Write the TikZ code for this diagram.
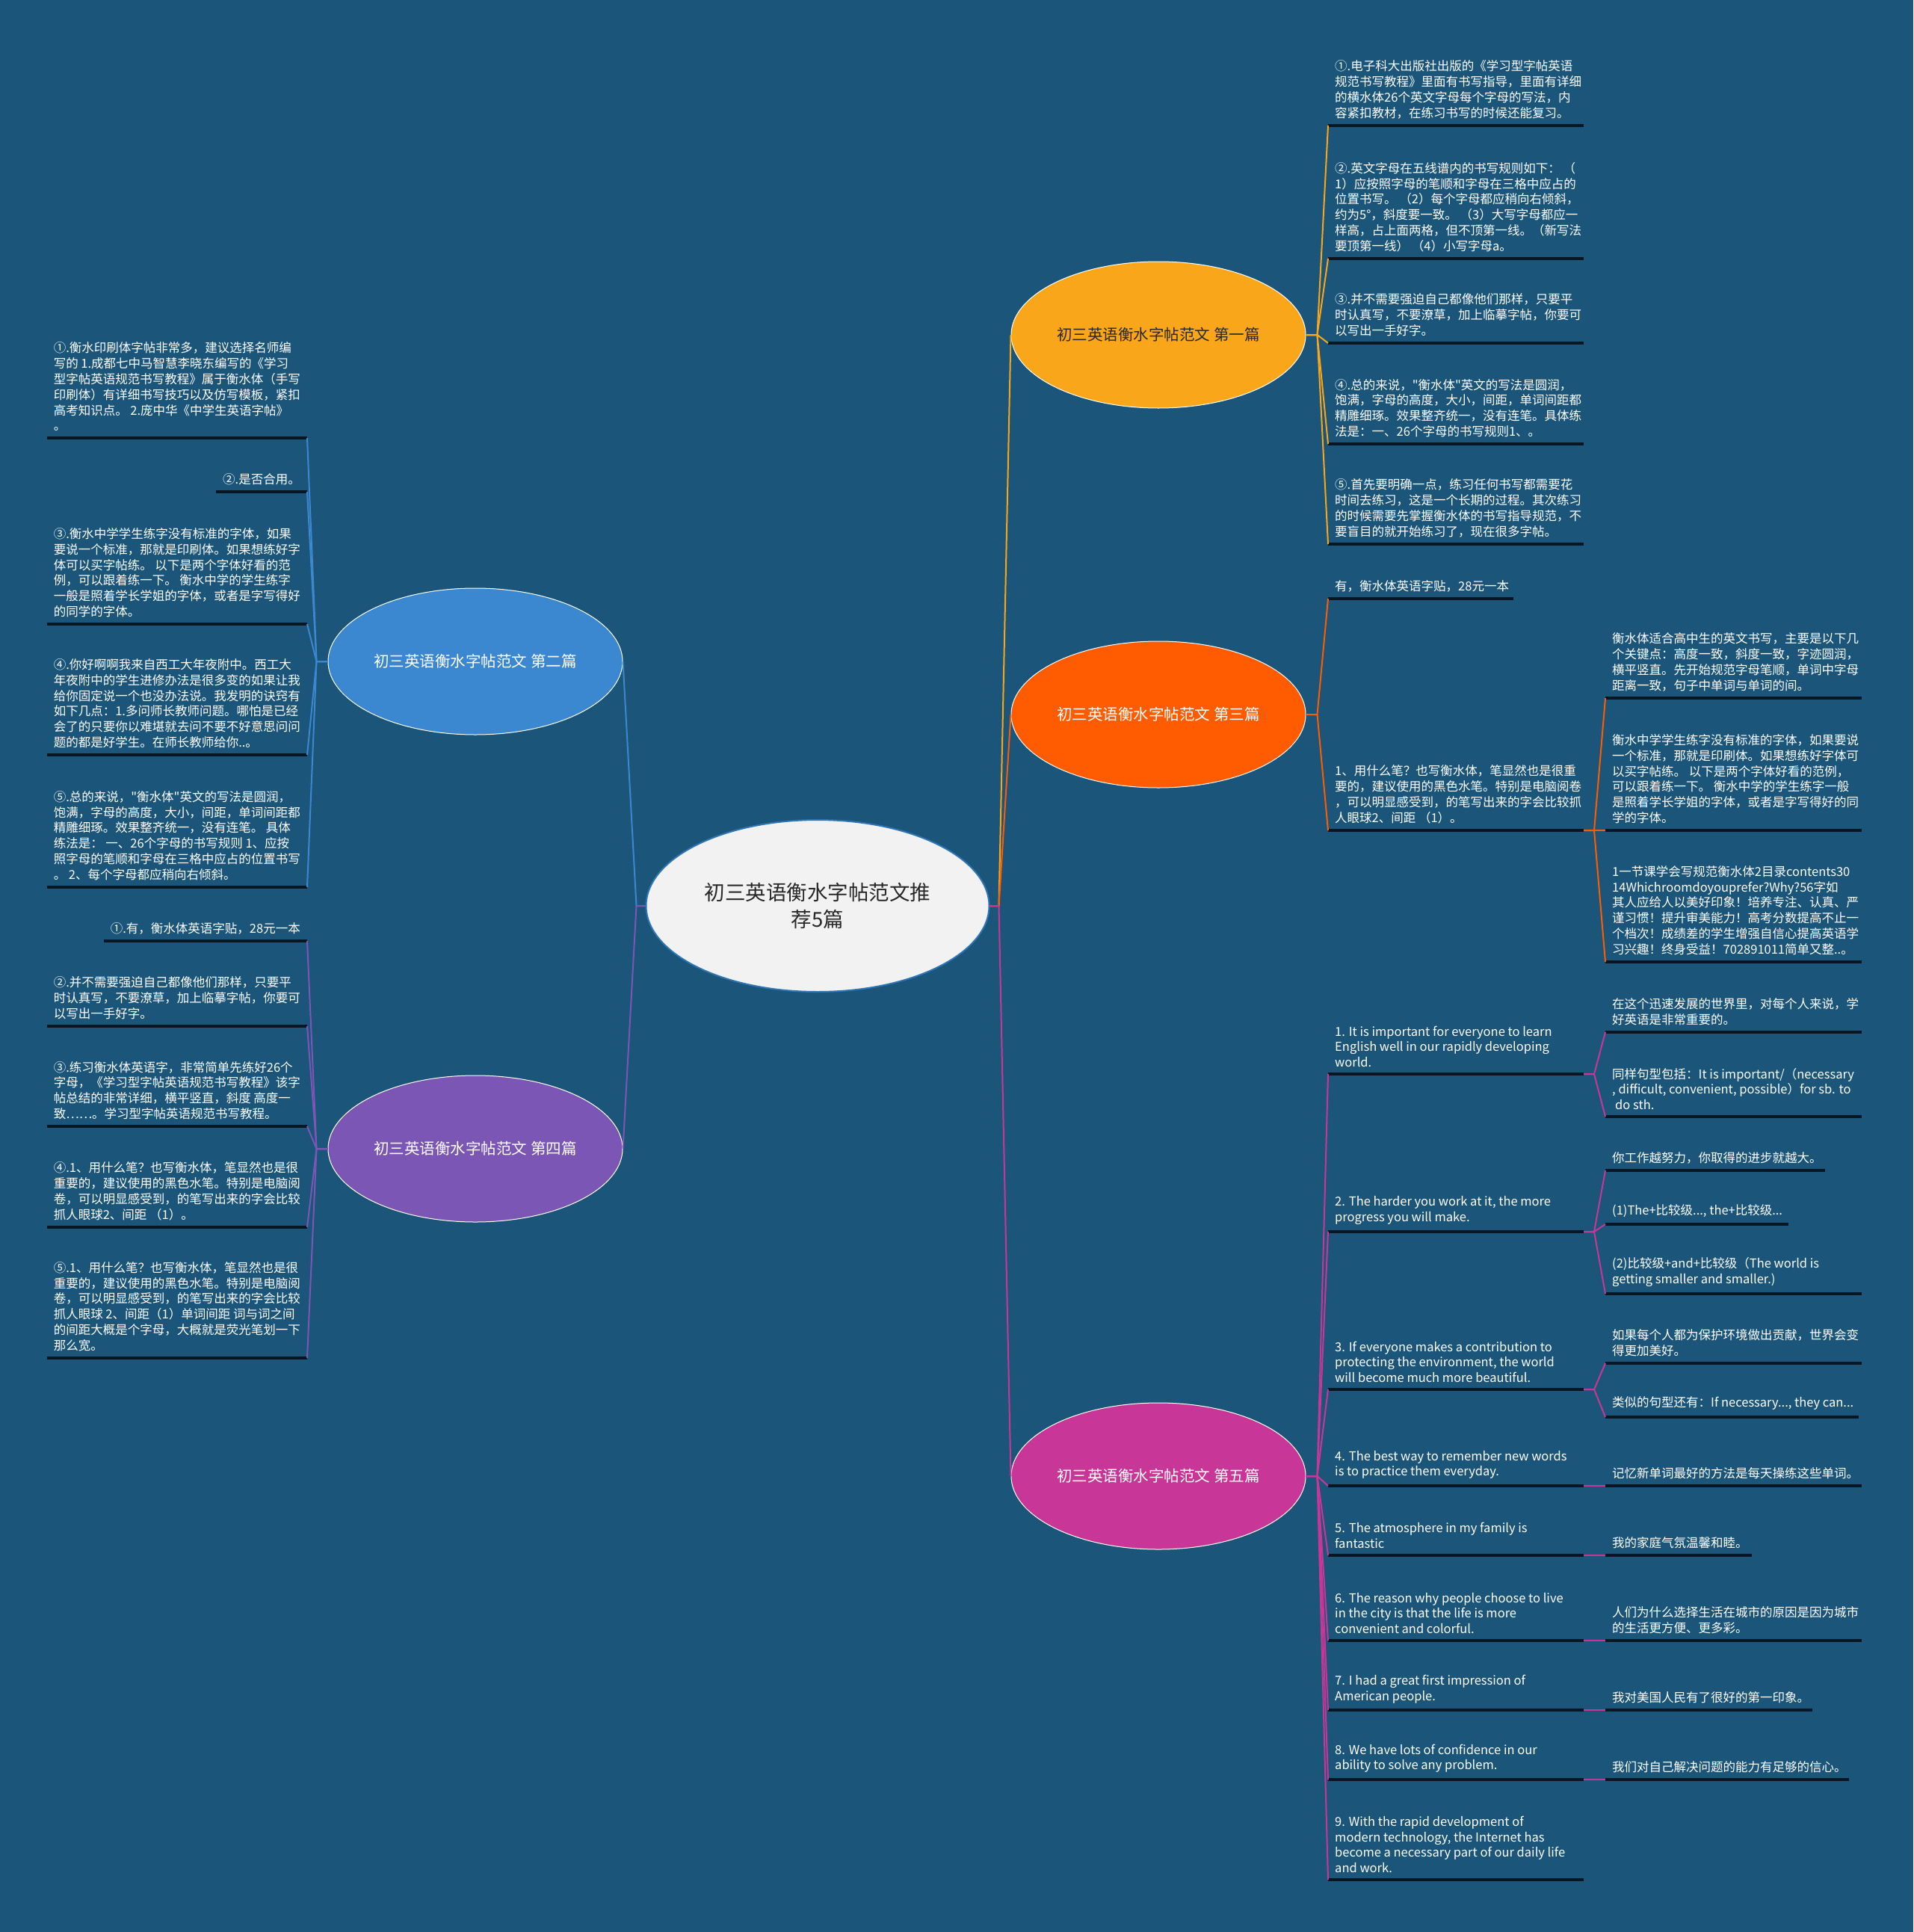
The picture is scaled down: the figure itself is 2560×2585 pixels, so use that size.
\documentclass[tikz,border=0pt]{standalone}
\usepackage{fontspec}
\setmainfont{Noto Sans CJK SC}
\newfontfamily\cjkf{Noto Sans CJK SC}
\usetikzlibrary{shapes.geometric,calc}
\definecolor{bg}{RGB}{27,85,122}
\definecolor{cA}{RGB}{250,166,26}
\definecolor{cB}{RGB}{59,135,208}
\definecolor{cC}{RGB}{255,92,2}
\definecolor{cD}{RGB}{123,86,180}
\definecolor{cE}{RGB}{200,55,152}
\definecolor{uline}{RGB}{8,22,35}
\definecolor{darktext}{RGB}{40,40,40}
\definecolor{rootfill}{RGB}{242,242,242}
\definecolor{rootdraw}{RGB}{46,117,182}
\tikzset{
  root/.style={ellipse, fill=rootfill, draw=rootdraw, line width=2pt, minimum width=459pt, minimum height=230pt, inner sep=0pt, align=center, text=darktext, font=\cjkf\fontsize{27.5}{36.5}\selectfont},
  topic/.style={ellipse, draw=white, line width=1pt, minimum width=394pt, minimum height=196pt, inner sep=0pt, font=\cjkf\fontsize{20.5}{24}\selectfont},
  leaf/.style={inner sep=0pt, align=left, text=white, font=\cjkf\fontsize{16.5}{20.8}\selectfont},
  ul/.style={draw=uline, line width=3.5pt},
  con/.style={line width=2pt},
}
\newcommand{\RLeaf}[5]{%
  \node[leaf, anchor=south west] (#1) at (#2,#3-9) {#5};
  \coordinate (#1-s) at (#2-9,#3);
  \coordinate (#1-e) at (#4,#3);
  \draw[ul] (#1-s) -- (#1-e);
}
\newcommand{\LLeaf}[3]{%
  \node[leaf, anchor=south east] (#1) at (402,#2-9) {#3};
  \coordinate (#1-e) at (411,#2);
  \coordinate (#1-s) at ($(#1.south west)+(-9,9)$);
  \draw[ul] (#1-s) -- (#1-e);
}
\begin{document}
\begin{tikzpicture}[x=1pt,y=-1pt]
\useasboundingbox (0,0) rectangle (2560,2585);
\fill[bg] (0,0) rectangle (2560,2585);

% root and topics
\node[root] (root) at (1094,1212) {初三英语衡水字帖范文推\\荐5篇};
\node[topic, fill=cA, text=darktext] (t1) at (1550,448) {初三英语衡水字帖范文 第一篇};
\node[topic, fill=cC, text=white] (t3) at (1550,956) {初三英语衡水字帖范文 第三篇};
\node[topic, fill=cE, text=white] (t5) at (1550,1975) {初三英语衡水字帖范文 第五篇};
\node[topic, fill=cB, text=white] (t2) at (636,885) {初三英语衡水字帖范文 第二篇};
\node[topic, fill=cD, text=white] (t4) at (636,1537) {初三英语衡水字帖范文 第四篇};

\draw[con, cA] (root.east) -- ++(12,0) -- (t1.west);
\draw[con, cC] (root.east) -- ++(12,0) -- (t3.west);
\draw[con, cE] (root.east) -- ++(12,0) -- (t5.west);
\draw[con, cB] (root.west) -- ++(-12,0) -- (t2.east);
\draw[con, cD] (root.west) -- ++(-12,0) -- (t4.east);

% ---------- 第一篇 ----------
\RLeaf{a1}{1786}{168}{2119}{①.电子科大出版社出版的《学习型字帖英语\\规范书写教程》里面有书写指导，里面有详细\\的横水体26个英文字母每个字母的写法，内\\容紧扣教材，在练习书写的时候还能复习。}
\RLeaf{a2}{1786}{346}{2119}{②.英文字母在五线谱内的书写规则如下： （\\1）应按照字母的笔顺和字母在三格中应占的\\位置书写。 （2）每个字母都应稍向右倾斜，\\约为5°，斜度要一致。 （3）大写字母都应一\\样高，占上面两格，但不顶第一线。（新写法\\要顶第一线） （4）小写字母a。}
\RLeaf{a3}{1786}{459}{2119}{③.并不需要强迫自己都像他们那样，只要平\\时认真写，不要潦草，加上临摹字帖，你要可\\以写出一手好字。}
\RLeaf{a4}{1786}{594}{2119}{④.总的来说，"衡水体"英文的写法是圆润，\\饱满，字母的高度，大小，间距，单词间距都\\精雕细琢。效果整齐统一，没有连笔。具体练\\法是：一、26个字母的书写规则1、。}
\RLeaf{a5}{1786}{728}{2119}{⑤.首先要明确一点，练习任何书写都需要花\\时间去练习，这是一个长期的过程。其次练习\\的时候需要先掌握衡水体的书写指导规范，不\\要盲目的就开始练习了，现在很多字帖。}
\foreach \n in {a1,a2,a3,a4,a5} \draw[con, cA] (t1.east) -- ++(15,0) -- (\n-s);

% ---------- 第三篇 ----------
\RLeaf{c1}{1786}{801}{2025}{有，衡水体英语字贴，28元一本}
\RLeaf{c2}{1786}{1111}{2119}{1、用什么笔？也写衡水体，笔显然也是很重\\要的，建议使用的黑色水笔。特别是电脑阅卷\\，可以明显感受到，的笔写出来的字会比较抓\\人眼球2、间距 （1）。}
\foreach \n in {c1,c2} \draw[con, cC] (t3.east) -- ++(15,0) -- (\n-s);
\RLeaf{c2a}{2157}{934}{2491}{衡水体适合高中生的英文书写，主要是以下几\\个关键点：高度一致，斜度一致，字迹圆润，\\横平竖直。先开始规范字母笔顺，单词中字母\\距离一致，句子中单词与单词的间。}
\RLeaf{c2b}{2157}{1111}{2491}{衡水中学学生练字没有标准的字体，如果要说\\一个标准，那就是印刷体。如果想练好字体可\\以买字帖练。 以下是两个字体好看的范例，\\可以跟着练一下。 衡水中学的学生练字一般\\是照着学长学姐的字体，或者是字写得好的同\\学的字体。}
\RLeaf{c2c}{2157}{1287}{2491}{1一节课学会写规范衡水体2目录contents30\\14Whichroomdoyouprefer?Why?56字如\\其人应给人以美好印象！培养专注、认真、严\\谨习惯！提升审美能力！高考分数提高不止一\\个档次！成绩差的学生增强自信心提高英语学\\习兴趣！终身受益！702891011简单又整..。}
\foreach \n in {c2a,c2b,c2c} \draw[con, cC] (c2-e) -- ++(14,0) -- (\n-s);

% ---------- 第五篇 ----------
\RLeaf{e1}{1786}{1437}{2119}{1. It is important for everyone to learn\\English well in our rapidly developing\\world.}
\RLeaf{e2}{1786}{1648}{2119}{2. The harder you work at it, the more\\progress you will make.}
\RLeaf{e3}{1786}{1859}{2119}{3. If everyone makes a contribution to\\protecting the environment, the world\\will become much more beautiful.}
\RLeaf{e4}{1786}{1988}{2119}{4. The best way to remember new words\\is to practice them everyday.}
\RLeaf{e5}{1786}{2081}{2119}{5. The atmosphere in my family is\\fantastic}
\RLeaf{e6}{1786}{2195}{2119}{6. The reason why people choose to live\\in the city is that the life is more\\convenient and colorful.}
\RLeaf{e7}{1786}{2288}{2119}{7. I had a great first impression of\\American people.}
\RLeaf{e8}{1786}{2381}{2119}{8. We have lots of confidence in our\\ability to solve any problem.}
\RLeaf{e9}{1786}{2515}{2119}{9. With the rapid development of\\modern technology, the Internet has\\become a necessary part of our daily life\\and work.}
\foreach \n in {e1,e2,e3,e4,e5,e6,e7,e8,e9} \draw[con, cE] (t5.east) -- ++(15,0) -- (\n-s);

\RLeaf{e1a}{2157}{1381}{2491}{在这个迅速发展的世界里，对每个人来说，学\\好英语是非常重要的。}
\RLeaf{e1b}{2157}{1494}{2491}{同样句型包括：It is important/（necessary\\, difficult, convenient, possible）for sb. to\\\hspace*{4pt}do sth.}
\RLeaf{e2a}{2157}{1566}{2442}{你工作越努力，你取得的进步就越大。}
\RLeaf{e2b}{2157}{1638}{2393}{(1)The+比较级..., the+比较级...}
\RLeaf{e2c}{2157}{1731}{2491}{(2)比较级+and+比较级（The world is\\getting smaller and smaller.)}
\RLeaf{e3a}{2157}{1824}{2491}{如果每个人都为保护环境做出贡献，世界会变\\得更加美好。}
\RLeaf{e3b}{2157}{1896}{2487}{类似的句型还有：If necessary..., they can...}
\RLeaf{e4a}{2157}{1988}{2491}{记忆新单词最好的方法是每天操练这些单词。}
\RLeaf{e5a}{2157}{2081}{2344}{我的家庭气氛温馨和睦。}
\RLeaf{e6a}{2157}{2195}{2491}{人们为什么选择生活在城市的原因是因为城市\\的生活更方便、更多彩。}
\RLeaf{e7a}{2157}{2288}{2425}{我对美国人民有了很好的第一印象。}
\RLeaf{e8a}{2157}{2381}{2474}{我们对自己解决问题的能力有足够的信心。}
\foreach \n in {e1a,e1b} \draw[con, cE] (e1-e) -- ++(14,0) -- (\n-s);
\foreach \n in {e2a,e2b,e2c} \draw[con, cE] (e2-e) -- ++(14,0) -- (\n-s);
\foreach \n in {e3a,e3b} \draw[con, cE] (e3-e) -- ++(14,0) -- (\n-s);
\draw[con, cE] (e4-e) -- (e4a-s);
\draw[con, cE] (e5-e) -- (e5a-s);
\draw[con, cE] (e6-e) -- (e6a-s);
\draw[con, cE] (e7-e) -- (e7a-s);
\draw[con, cE] (e8-e) -- (e8a-s);

% ---------- 第二篇 ----------
\LLeaf{b1}{586}{①.衡水印刷体字帖非常多，建议选择名师编\\写的 1.成都七中马智慧李晓东编写的《学习\\型字帖英语规范书写教程》属于衡水体（手写\\印刷体）有详细书写技巧以及仿写模板，紧扣\\高考知识点。 2.庞中华《中学生英语字帖》\\。}
\LLeaf{b2}{658}{②.是否合用。}
\LLeaf{b3}{835}{③.衡水中学学生练字没有标准的字体，如果\\要说一个标准，那就是印刷体。如果想练好字\\体可以买字帖练。 以下是两个字体好看的范\\例，可以跟着练一下。 衡水中学的学生练字\\一般是照着学长学姐的字体，或者是字写得好\\的同学的字体。}
\LLeaf{b4}{1010}{④.你好啊啊我来自西工大年夜附中。西工大\\年夜附中的学生进修办法是很多变的如果让我\\给你固定说一个也没办法说。我发明的诀窍有\\如下几点：1.多问师长教师问题。哪怕是已经\\会了的只要你以难堪就去问不要不好意思问问\\题的都是好学生。在师长教师给你..。}
\LLeaf{b5}{1187}{⑤.总的来说，"衡水体"英文的写法是圆润，\\饱满，字母的高度，大小，间距，单词间距都\\精雕细琢。效果整齐统一，没有连笔。 具体\\练法是： 一、26个字母的书写规则 1、应按\\照字母的笔顺和字母在三格中应占的位置书写\\。 2、每个字母都应稍向右倾斜。}
\foreach \n in {b1,b2,b3,b4,b5} \draw[con, cB] (t2.west) -- ++(-15,0) -- (\n-e);

% ---------- 第四篇 ----------
\LLeaf{d1}{1259}{①.有，衡水体英语字贴，28元一本}
\LLeaf{d2}{1373}{②.并不需要强迫自己都像他们那样，只要平\\时认真写，不要潦草，加上临摹字帖，你要可\\以写出一手好字。}
\LLeaf{d3}{1507}{③.练习衡水体英语字，非常简单先练好26个\\字母，《学习型字帖英语规范书写教程》该字\\帖总结的非常详细，横平竖直，斜度 高度一\\致……。学习型字帖英语规范书写教程。}
\LLeaf{d4}{1642}{④.1、用什么笔？也写衡水体，笔显然也是很\\重要的，建议使用的黑色水笔。特别是电脑阅\\卷，可以明显感受到，的笔写出来的字会比较\\抓人眼球2、间距 （1）。}
\LLeaf{d5}{1817}{⑤.1、用什么笔？也写衡水体，笔显然也是很\\重要的，建议使用的黑色水笔。特别是电脑阅\\卷，可以明显感受到，的笔写出来的字会比较\\抓人眼球 2、间距（1）单词间距 词与词之间\\的间距大概是个字母，大概就是荧光笔划一下\\那么宽。}
\foreach \n in {d1,d2,d3,d4,d5} \draw[con, cD] (t4.west) -- ++(-15,0) -- (\n-e);
\end{tikzpicture}
\end{document}
